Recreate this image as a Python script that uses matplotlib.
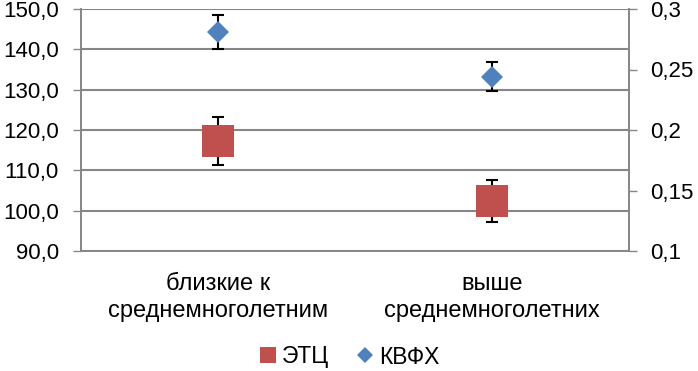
import matplotlib
matplotlib.use("Agg")
import matplotlib.pyplot as plt
from matplotlib.lines import Line2D

plt.rcParams['font.family'] = ['Liberation Sans', 'DejaVu Sans']

categories = ["близкие к\nсреднемноголетним", "выше\nсреднемноголетних"]
etc_values = [117.3, 102.4]
etc_err = [5.9, 5.1]
kvfh_values = [0.281, 0.244]
kvfh_err = [0.014, 0.012]
left_ticks = [90, 100, 110, 120, 130, 140, 150]
left_labels = ["90,0", "100,0", "110,0", "120,0", "130,0", "140,0", "150,0"]
right_ticks = [0.1, 0.15, 0.2, 0.25, 0.3]
right_labels = ["0,1", "0,15", "0,2", "0,25", "0,3"]

red = "#C0504D"
blue = "#4F81BD"
grid_c = "#868686"
fs = 16
fs_cat = 17

fig = plt.figure(figsize=(6.98, 3.71), dpi=100)
ax = fig.add_axes([81/698, 1-251/371, (629-81)/698, (251-9)/371])
ax2 = ax.twinx()

x = list(range(len(categories)))

ax.errorbar(x, etc_values, yerr=etc_err, fmt='none', ecolor='black',
            elinewidth=1.5, capsize=4.5, capthick=1.5, zorder=2)
ax.plot(x, etc_values, linestyle='none', marker='s', markersize=23,
        color=red, markeredgewidth=0, zorder=3)

ax2.errorbar(x, kvfh_values, yerr=kvfh_err, fmt='none', ecolor='black',
             elinewidth=1.5, capsize=4.5, capthick=1.5, zorder=2)
ax2.plot(x, kvfh_values, linestyle='none', marker='D', markersize=11.5,
         color=blue, markeredgewidth=0, zorder=3)

ax.set_xlim(-0.5, 1.5)
ax.set_ylim(90, 150)
ax2.set_ylim(0.1, 0.3)

ax.set_yticks(left_ticks)
ax.set_yticklabels(left_labels, fontsize=fs)
ax2.set_yticks(right_ticks)
ax2.set_yticklabels(right_labels, fontsize=fs)

ax.set_xticks([-0.5, 0.5, 1.5])
ax.set_xticklabels([])
ax.set_xticks(x, minor=True)
ax.set_xticklabels(categories, minor=True, fontsize=fs_cat, linespacing=1.3)
ax.tick_params(axis='x', which='minor', length=0, pad=16)
ax.tick_params(axis='x', which='major', length=6, width=1, color=grid_c, direction='out')
ax.tick_params(axis='y', length=6, width=1, color=grid_c, direction='out', pad=10)
ax2.tick_params(axis='y', length=6, width=1, color=grid_c, direction='out', pad=9)
ax2.set_xticks([])

ax.yaxis.grid(True, color=grid_c, linewidth=1.5)
ax.set_axisbelow(True)

for a in (ax, ax2):
    for s in ('top',):
        a.spines[s].set_visible(False)
    for s in ('left', 'right', 'bottom'):
        a.spines[s].set_color(grid_c)
        a.spines[s].set_linewidth(1.2)

handles = [
    Line2D([], [], linestyle='none', marker='s', markersize=12, color=red, markeredgewidth=0),
    Line2D([], [], linestyle='none', marker='D', markersize=8, color=blue, markeredgewidth=0),
]
fig.legend(handles, ["ЭТЦ", "КВФХ"], loc='center', bbox_to_anchor=(0.5, 1-357/371),
           ncol=2, frameon=False, fontsize=16.5, handlelength=0.8, handletextpad=0.2,
           columnspacing=1.2)

fig.savefig("out.png", dpi=100)
